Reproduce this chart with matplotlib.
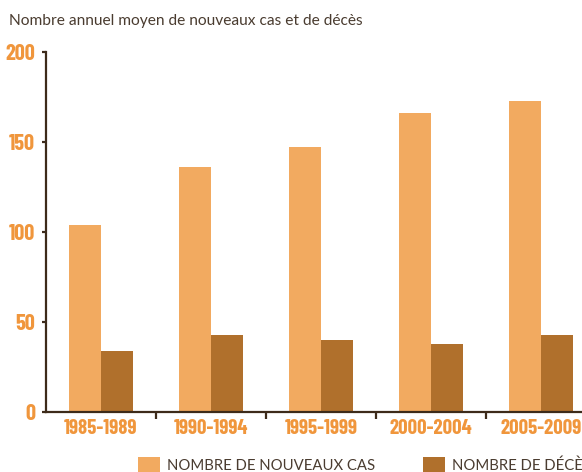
import numpy as np
import matplotlib
matplotlib.use("Agg")
import matplotlib.pyplot as plt
from matplotlib.ticker import FixedLocator

# Données
periodes = ["1985-1989", "1990-1994", "1995-1999", "2000-2004", "2005-2009"]
nouveaux_cas = [104, 136, 147, 166, 173]
deces = [34, 43, 40, 38, 43]
series_labels = ["NOMBRE DE NOUVEAUX CAS", "NOMBRE DE DÉCÈS"]
yticks = [0, 50, 100, 150, 200]

c_cas = "#F2AA60"
c_deces = "#B0702C"
c_num = "#F0963C"
c_axe = "#3D2B1A"
c_txt = "#4A3C30"

num_font = ["Barlow Condensed", "DejaVu Sans"]
txt_font = ["Lato", "DejaVu Sans"]

fig = plt.figure(figsize=(5.82, 4.72), dpi=100)
ax = fig.add_axes([46 / 582, 60 / 472, 550 / 582, 360 / 472])

x = np.arange(len(periodes))
w = 0.287
b1 = ax.bar(x - w / 2, nouveaux_cas, w, color=c_cas, label=series_labels[0])
b2 = ax.bar(x + w / 2, deces, w, color=c_deces, label=series_labels[1])

ax.set_xlim(-0.5, len(periodes) - 0.5)
ax.set_ylim(0, 200)

for s in ["top", "right"]:
    ax.spines[s].set_visible(False)
for s in ["left", "bottom"]:
    ax.spines[s].set_color(c_axe)
    ax.spines[s].set_linewidth(1.6)

ax.set_yticks(yticks)
ax.set_yticklabels([str(v) for v in yticks], fontsize=16, fontweight="bold",
                   color=c_num, family=num_font)
ax.tick_params(axis="y", length=3, width=1.6, color=c_axe, pad=5)

ax.set_xticks(x)
ax.set_xticklabels(periodes, fontsize=15, fontweight="bold", color=c_num,
                   family=num_font)
ax.tick_params(axis="x", which="major", length=0, pad=5)
ax.xaxis.set_minor_locator(FixedLocator(x[:-1] + 0.5))
ax.tick_params(axis="x", which="minor", length=5, width=1.6, color=c_axe)

fig.text(9 / 582, 1 - 21 / 472, "Nombre annuel moyen de nouveaux cas et de décès",
         fontsize=11.2, color=c_txt, family=txt_font, va="center", ha="left")

fig.legend(handles=[b1, b2], loc="center left", bbox_to_anchor=(138 / 582, 7 / 472),
           ncol=2, frameon=False, borderpad=0, borderaxespad=0,
           handlelength=1.5, handleheight=1.15, handletextpad=0.45,
           columnspacing=3.2, prop={"family": txt_font, "size": 10.7},
           labelcolor=c_txt)

fig.savefig("out.png", dpi=100)
